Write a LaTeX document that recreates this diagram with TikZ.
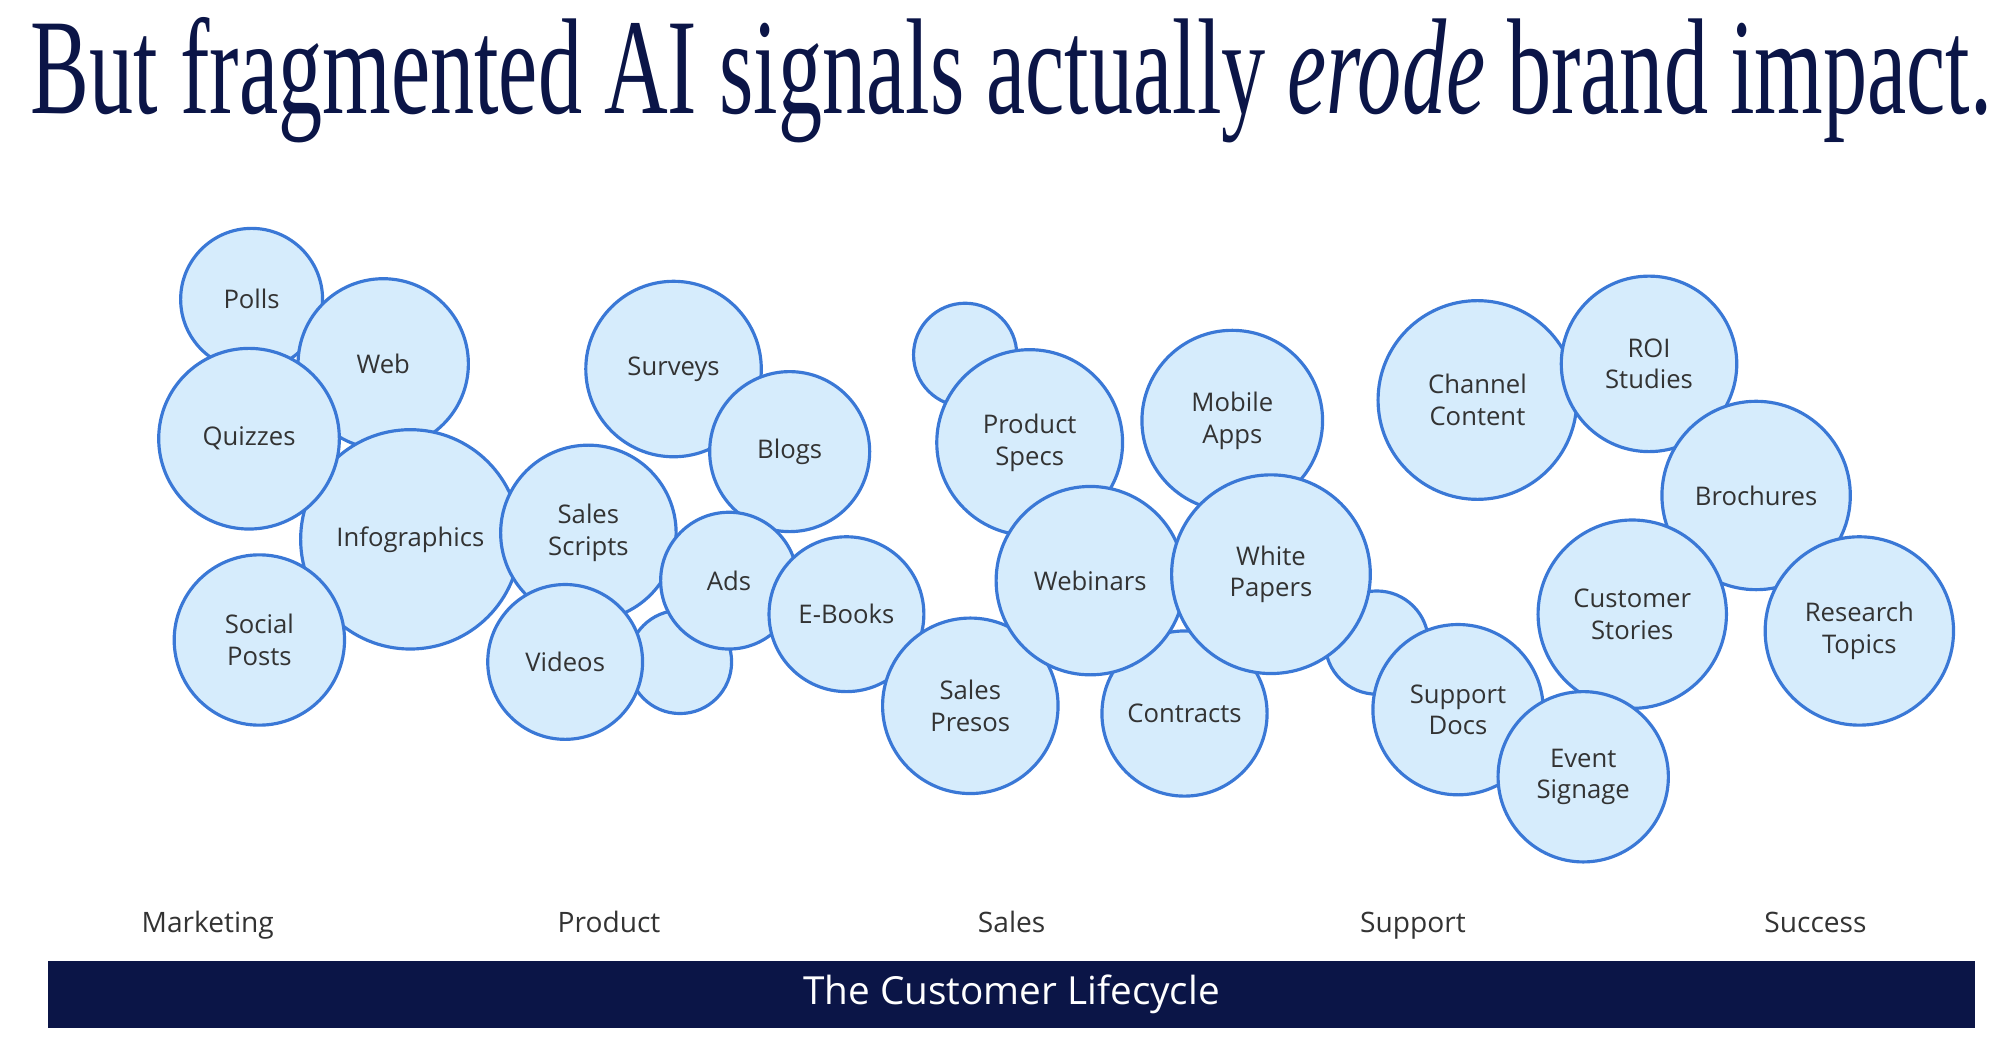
\documentclass[tikz,border=0pt]{standalone}
\usepackage{fontspec}
\setmainfont{Open Sans}
\newfontfamily\titlefont{Liberation Serif}
\definecolor{navy}{HTML}{0B1547}
\definecolor{bfill}{HTML}{D6ECFC}
\definecolor{bline}{HTML}{3A78D6}
\definecolor{lbl}{HTML}{333333}
\begin{document}
\begin{tikzpicture}[x=0.0129cm,y=-0.0129cm,
  bub/.style={circle,draw=bline,fill=bfill,line width=0.9pt,inner sep=0pt,align=center,font=\fontsize{7.3}{9}\selectfont,text=lbl},
  stage/.style={font=\fontsize{8}{10}\selectfont,text=lbl}]
\useasboundingbox (0,0) rectangle (1550,823);
\node[text=navy,inner sep=0pt] (title) at (784,62) {\resizebox{19.6cm}{0.96cm}{\titlefont\fontsize{30}{30}\selectfont But fragmented AI signals actually \textit{erode} brand impact.}};
\newcommand\bb[5]{\node[bub,minimum size=#4*2*0.0129cm] (#1) at (#2,#3) {#5};}
\bb{polls}{195}{232}{55}{Polls}
\bb{web}{297}{282}{66}{Web}
\bb{infog}{318}{418}{85}{Infographics}
\bb{quiz}{193}{340}{70}{Quizzes}
\bb{social}{201}{496}{66}{Social\\Posts}
\bb{surveys}{522}{286}{68}{Surveys}
\bb{blogs}{612}{350}{62}{Blogs}
\bb{smalla}{527}{513}{40}{}
\bb{scripts}{456}{413}{68}{Sales\\Scripts}
\bb{videos}{438}{513}{60}{Videos}
\bb{ads}{565}{450}{53}{Ads}
\bb{ebooks}{656}{476}{60}{E-Books}
\bb{smallb}{748}{275}{40}{}
\bb{pspecs}{798}{343}{72}{Product\\Specs}
\bb{mobile}{955}{326}{70}{Mobile\\Apps}
\bb{presos}{752}{547}{68}{Sales\\Presos}
\bb{contracts}{918}{553}{64}{Contracts}
\bb{webinars}{845}{450}{73}{Webinars}
\bb{smallc}{1067}{498}{40}{}
\bb{white}{985}{445}{77}{White\\Papers}
\bb{channel}{1145}{310}{77}{Channel\\Content}
\bb{roi}{1278}{282}{68}{ROI\\Studies}
\bb{brochures}{1361}{384}{73}{Brochures}
\bb{research}{1441}{489}{73}{Research\\Topics}
\bb{support}{1130}{550}{66}{Support\\Docs}
\bb{customer}{1265}{476}{73}{Customer\\Stories}
\bb{event}{1227}{602}{66}{Event\\Signage}
\node[stage,anchor=base] (s1) at (161,723) {Marketing};
\node[stage,anchor=base] (s2) at (472,723) {Product};
\node[stage,anchor=base] (s3) at (784,723) {Sales};
\node[stage,anchor=base] (s4) at (1095,723) {Support};
\node[stage,anchor=base] (s5) at (1407,723) {Success};
\fill[navy] (37,745) rectangle (1531,797);
\node[text=white,font=\fontsize{11}{13}\selectfont] (bar) at (784,771) {The Customer Lifecycle};
\end{tikzpicture}
\end{document}
